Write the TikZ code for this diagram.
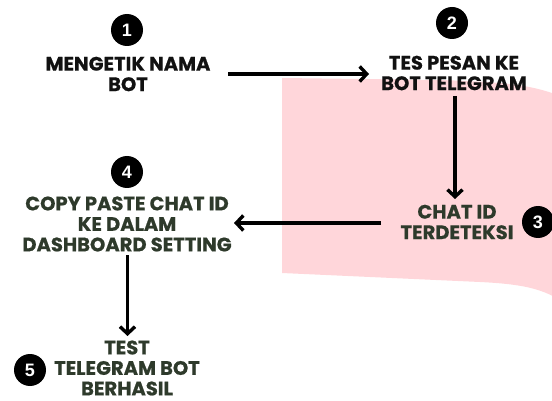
\documentclass[tikz,border=0pt]{standalone}
\usepackage{fontspec}
\setmainfont{Poppins}[BoldFont={* Bold}, BoldFeatures={FakeBold=0.6}]
\newfontfamily\digitfont{Liberation Sans}
\usetikzlibrary{arrows.meta}
\definecolor{pinkbg}{HTML}{FFD6DA}
\definecolor{darkgreen}{HTML}{2E3A2B}
\definecolor{nearblack}{HTML}{111111}
\tikzset{
  steptext/.style={font=\bfseries\fontsize{19.5}{20.5}\selectfont, align=center, inner sep=0pt},
  numdot/.style={circle, fill=black, text=white, minimum size=32pt, inner sep=0pt, font=\digitfont\bfseries\fontsize{18}{18}\selectfont},
  flow/.style={line width=3.6pt, draw=black, -{Straight Barb[length=7pt,width=15pt,line width=3.4pt]}},
}
\begin{document}
\begin{tikzpicture}[x=1pt,y=-1pt]
\useasboundingbox (0,0) rectangle (552,401);
% pink background
\fill[pinkbg] (282,78) -- (440,80) .. controls (500,82) and (530,84) .. (560,96)
  -- (560,300) .. controls (540,288) and (520,284) .. (480,282) -- (282,273) -- cycle;
% numbers
\node[numdot] (n1) at (127,30) {1};
\node[numdot] (n2) at (452,23) {2};
\node[numdot] (n3) at (538,222) {3};
\node[numdot] (n4) at (127,172) {4};
\node[numdot] (n5) at (30,370) {5};
% texts
\node[steptext, text=nearblack] (s1) at (128,74) {MENGETIK NAMA\\BOT};
\node[steptext, text=nearblack] (s2) at (454,73) {TES PESAN KE\\BOT TELEGRAM};
\node[steptext, text=darkgreen] (s3) at (457,222) {CHAT ID\\TERDETEKSI};
\node[steptext, text=darkgreen] (s4) at (127,224) {COPY PASTE CHAT ID\\KE DALAM\\DASHBOARD SETTING};
\node[steptext, text=darkgreen] (s5) at (127,368) {TEST\\TELEGRAM BOT\\BERHASIL};
% connector anchor points
\coordinate (a1s) at (228,74);
\coordinate (a1e) at (369,74);
\coordinate (a2s) at (455,96);
\coordinate (a2e) at (455,199);
\coordinate (a3s) at (381,223);
\coordinate (a3e) at (234,223);
\coordinate (a4s) at (127.5,255);
\coordinate (a4e) at (127.5,336);
\draw[flow] (a1s) -- (a1e);
\draw[flow] (a2s) -- (a2e);
\draw[flow] (a3s) -- (a3e);
\draw[flow] (a4s) -- (a4e);
\end{tikzpicture}
\end{document}
